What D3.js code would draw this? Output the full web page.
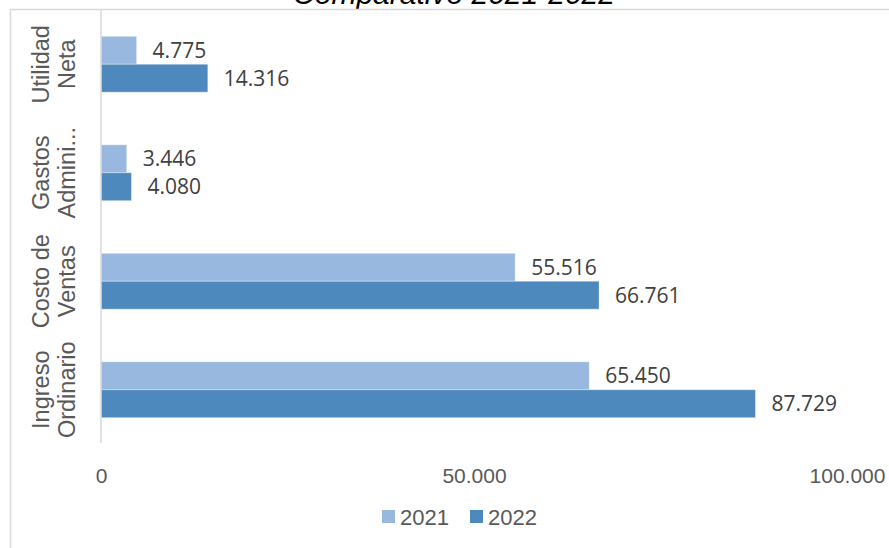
<!DOCTYPE html>
<html>
<head>
<meta charset="utf-8">
<script src="https://cdn.jsdelivr.net/npm/d3@7"></script>
<style>
  html, body { margin: 0; padding: 0; background: #fff; }
  svg { display: block; }
</style>
</head>
<body>
<svg id="chart" width="889" height="548"></svg>
<script>
// Category keys (bottom to top in the plot) and their two-line axis labels
const categories = ["Ingreso Ordinario", "Costo de Ventas", "Gastos Admini...", "Utilidad Neta"];
const categoryLines = [["Ingreso", "Ordinario"], ["Costo de", "Ventas"], ["Gastos", "Admini..."], ["Utilidad", "Neta"]];
const seriesNames = ["2021", "2022"];
const values2021 = [65450, 55516, 3446, 4775];
const values2022 = [87729, 66761, 4080, 14316];
const xTicks = [0, 50000, 100000];
const seriesColors = ["#98b8df", "#4e89be"];
const titleText = "Comparativo 2021-2022";

const svg = d3.select("#chart");
const W = 889, H = 548;

const locale = d3.formatLocale({ decimal: ",", thousands: ".", grouping: [3], currency: ["", ""] });
const fmt = locale.format(",d");

const plot = { left: 101, right: 847, top: 10, bottom: 444 };

const x = d3.scaleLinear().domain([0, 100000]).range([plot.left, plot.right]);
const y = d3.scaleBand()
  .domain(categories.slice().reverse())
  .range([plot.top, plot.bottom])
  .paddingInner(0.485)
  .paddingOuter(0.2425);
const ySub = d3.scaleBand().domain(seriesNames).range([0, y.bandwidth()]);

const rows = categories.map((c, i) => ({
  cat: c, lines: categoryLines[i],
  vals: [values2021[i], values2022[i]]
}));

// Title (sits above the chart frame)
svg.append("text")
  .attr("x", 454).attr("y", 4)
  .attr("text-anchor", "middle")
  .attr("font-family", "Liberation Sans, Arial, sans-serif")
  .attr("font-style", "italic")
  .attr("font-size", 30)
  .attr("fill", "#000")
  .text(titleText);

// Chart frame
svg.append("rect")
  .attr("x", 10.5).attr("y", 9.5)
  .attr("width", W).attr("height", H)
  .attr("fill", "none")
  .attr("stroke", "#d9d9d9")
  .attr("stroke-width", 1.5);

// Bars
const groups = svg.append("g").selectAll("g")
  .data(rows).join("g")
  .attr("transform", d => `translate(0,${y(d.cat)})`);

groups.selectAll("rect")
  .data(d => d.vals.map((v, k) => ({ v, k })))
  .join("rect")
  .attr("x", x(0))
  .attr("y", d => ySub(seriesNames[d.k]))
  .attr("width", d => x(d.v) - x(0))
  .attr("height", ySub.bandwidth())
  .attr("fill", d => seriesColors[d.k])
  .attr("stroke", "#ffffff")
  .attr("stroke-opacity", 0.35)
  .attr("stroke-width", 1);

// Data labels
groups.selectAll("text.val")
  .data(d => d.vals.map((v, k) => ({ v, k })))
  .join("text")
  .attr("class", "val")
  .attr("x", d => x(d.v) + 16)
  .attr("y", d => ySub(seriesNames[d.k]) + ySub.bandwidth() / 2)
  .attr("dy", "0.36em")
  .attr("font-family", "Open Sans, sans-serif")
  .attr("font-size", 21)
  .attr("fill", "#404040")
  .text(d => fmt(d.v));

// Vertical category axis line
svg.append("line")
  .attr("x1", plot.left).attr("x2", plot.left)
  .attr("y1", plot.top).attr("y2", 443)
  .attr("stroke", "#d9d9d9").attr("stroke-width", 1.5);

// Category labels (rotated, two lines)
const catLabels = svg.append("g").selectAll("text")
  .data(rows).join("text")
  .attr("transform", d => `translate(0,${y(d.cat) + y.bandwidth() / 2}) rotate(-90)`)
  .attr("text-anchor", "middle")
  .attr("font-family", "Liberation Sans, Arial, sans-serif")
  .attr("font-size", 23.5)
  .attr("fill", "#595959");
catLabels.selectAll("tspan")
  .data(d => d.lines)
  .join("tspan")
  .attr("x", 0)
  .attr("y", (d, i) => i === 0 ? 49 : 75)
  .text(d => d);

// Value axis tick labels
const xAxis = d3.axisBottom(x).tickValues(xTicks).tickFormat(fmt).tickSize(0).tickPadding(0);
const gx = svg.append("g").attr("transform", `translate(0,${483})`).call(xAxis);
gx.select(".domain").remove();
gx.selectAll("text")
  .attr("dy", 0)
  .attr("font-family", "Liberation Sans, Arial, sans-serif")
  .attr("font-size", 21)
  .attr("fill", "#595959");

// Legend
const legendItems = [{ name: "2021", x: 382 }, { name: "2022", x: 470 }];
const lg = svg.append("g").selectAll("g")
  .data(legendItems).join("g")
  .attr("transform", d => `translate(${d.x},510)`);
lg.append("rect")
  .attr("width", 13).attr("height", 13)
  .attr("fill", (d, i) => seriesColors[i]);
lg.append("text")
  .attr("x", 18).attr("y", 14.5)
  .attr("font-family", "Liberation Sans, Arial, sans-serif")
  .attr("font-size", 22)
  .attr("fill", "#595959")
  .text(d => d.name);
</script>
</body>
</html>
